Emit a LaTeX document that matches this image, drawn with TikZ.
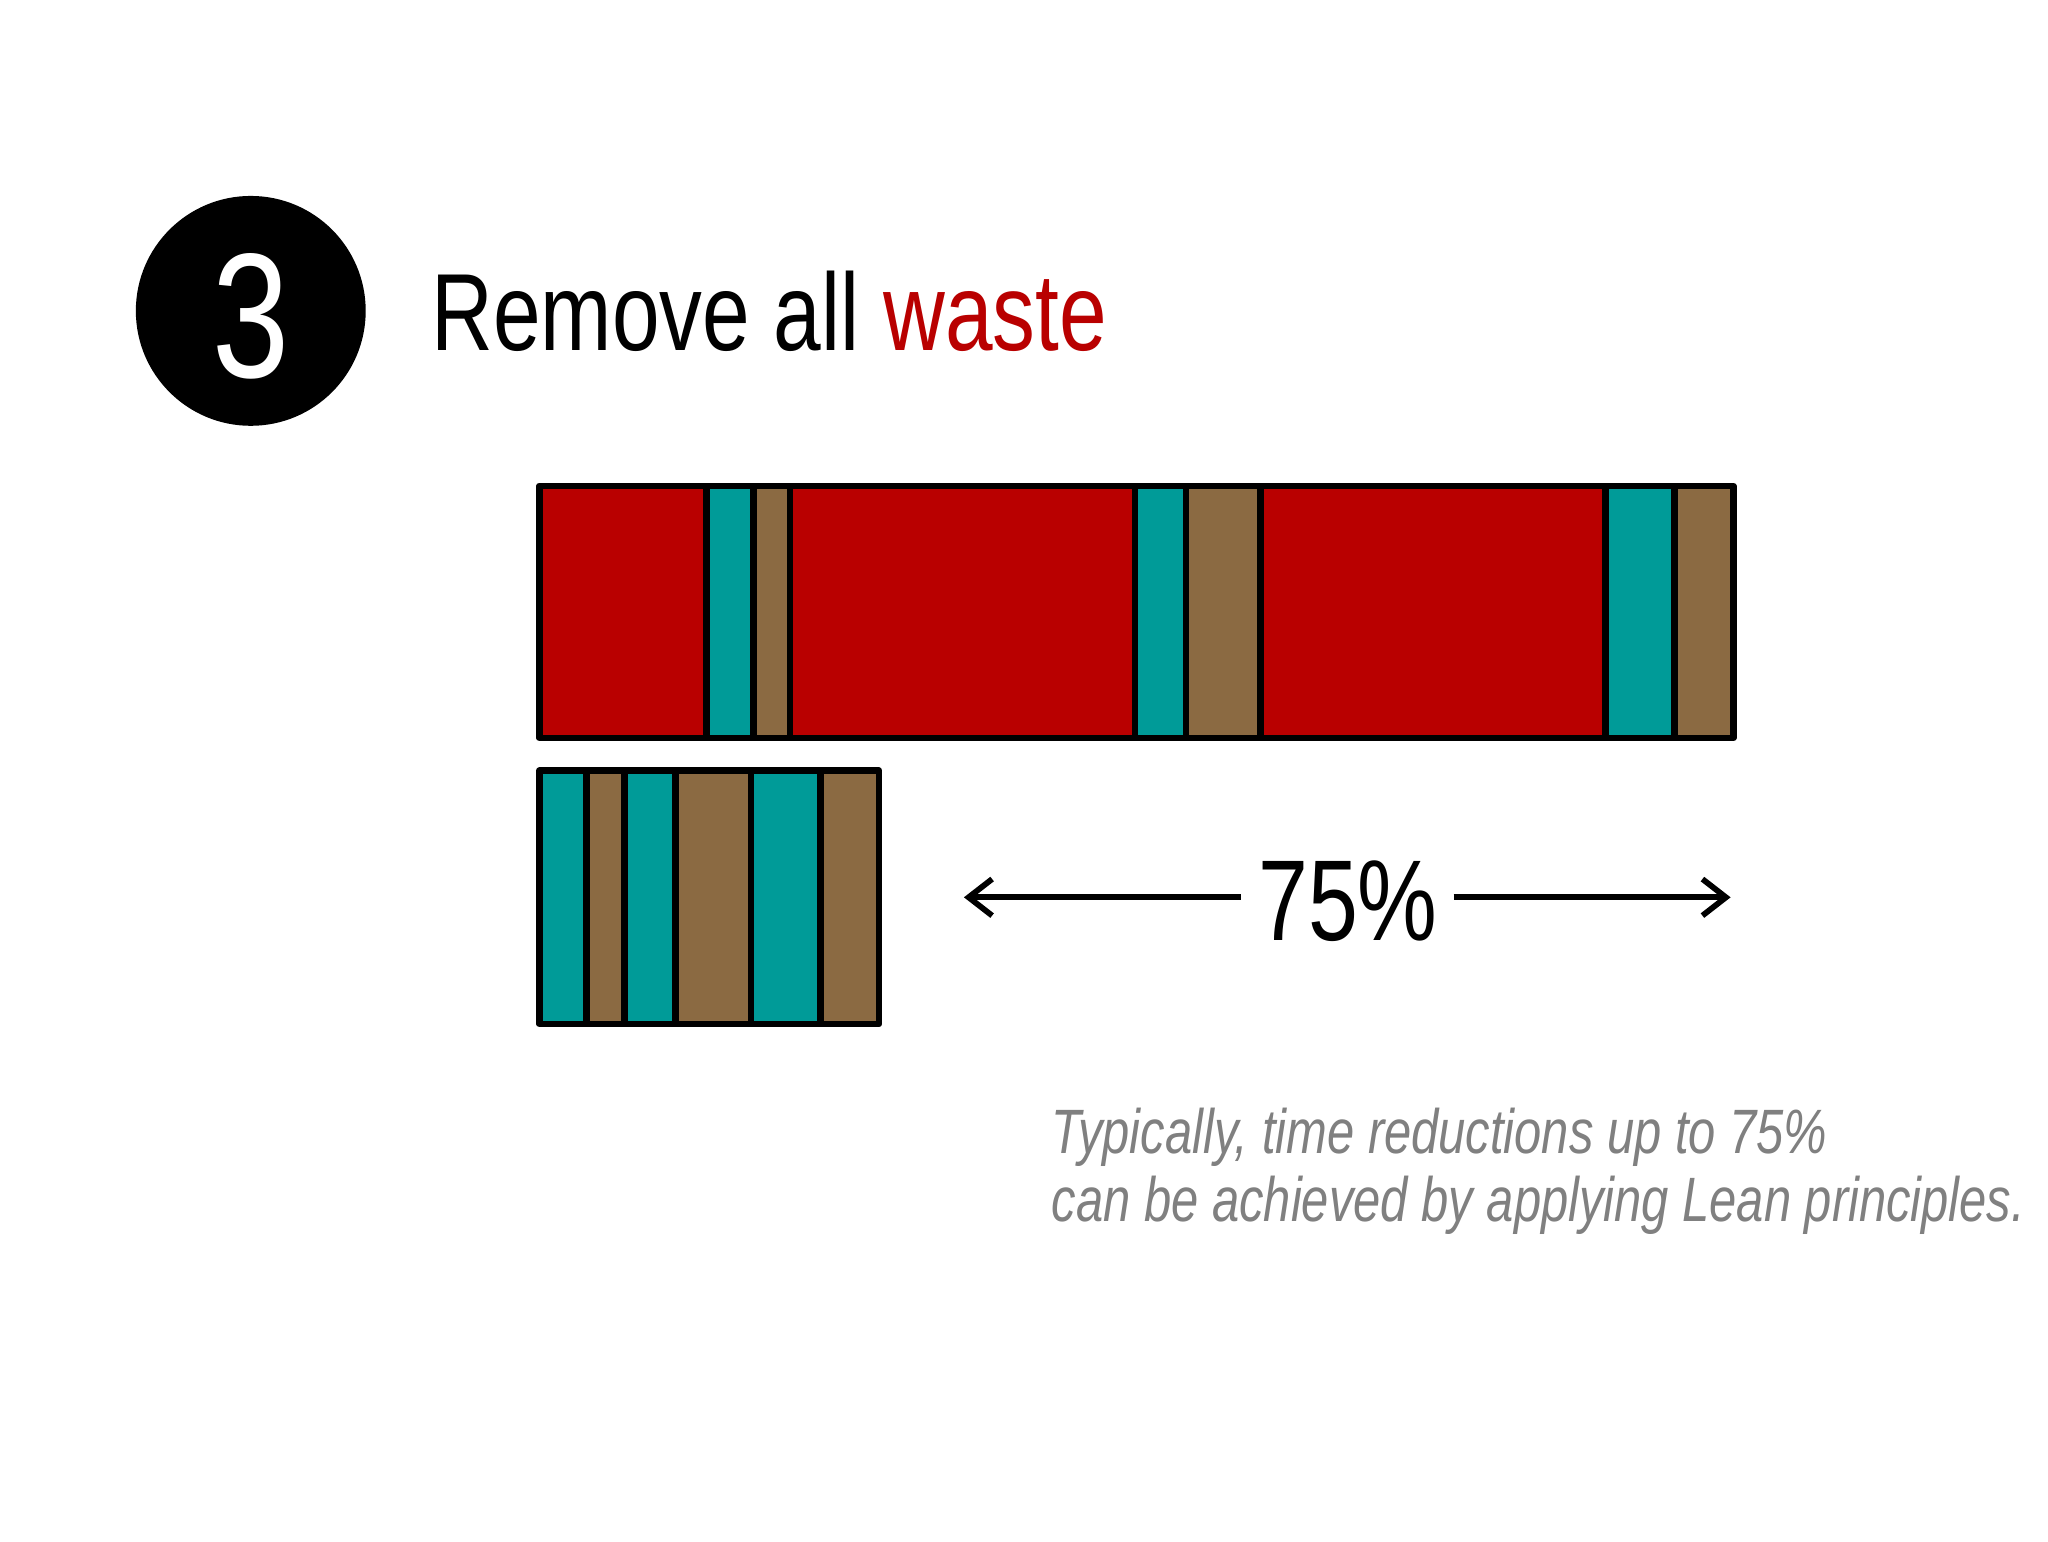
\documentclass[tikz,border=0pt]{standalone}
\usepackage{fontspec}
\setmainfont{Liberation Sans}
\newfontfamily\cond[FakeStretch=0.78]{Liberation Sans}
\usetikzlibrary{arrows.meta}
\definecolor{wred}{HTML}{B90000}
\definecolor{wteal}{HTML}{009B98}
\definecolor{wbrown}{HTML}{8B6A42}
\definecolor{wgray}{HTML}{808080}
\begin{document}
\begin{tikzpicture}[x=0.5pt,y=-0.5pt,
  seg/.style={draw=black,line width=2.5pt,line join=round},
  arr/.style={line width=2.2pt,-{Straight Barb[length=9pt,width=14pt,line width=2.2pt]}}]
\useasboundingbox (0,0) rectangle (1568,1180);
\fill[white] (0,0) rectangle (1568,1180);
\node[circle,fill=black,minimum size=88pt,inner sep=0] (num) at (192,238) {};
\node[text=white,font=\cond\fontsize{68}{68}\selectfont] at (192,242) {3};
\node[anchor=base west,inner sep=0,font=\cond\fontsize{42}{42}\selectfont] (title) at (330,268) {Remove all \textcolor{wred}{waste}};
% top bar
\foreach \a/\b/\c in {413/541/wred,541/577/wteal,577/605/wbrown,605/869/wred,869/908/wteal,908/965/wbrown,965/1229/wred,1229/1282/wteal,1282/1327/wbrown}
  \draw[seg,fill=\c] (\a,372) rectangle (\b,565);
% bottom bar
\foreach \a/\b/\c in {413/449/wteal,449/478/wbrown,478/517/wteal,517/575/wbrown,575/628/wteal,628/673/wbrown}
  \draw[seg,fill=\c] (\a,590) rectangle (\b,784);
\node[font=\cond\fontsize{44}{44}\selectfont,inner sep=0] (pct) at (1032,690) {75\%};
\coordinate (la) at (950,687);
\coordinate (lb) at (738,687);
\coordinate (ra) at (1113,687);
\coordinate (rb) at (1325,687);
\draw[arr] (la) -- (lb);
\draw[arr] (ra) -- (rb);
\node[anchor=north west,align=left,text=wgray,inner sep=0,font=\cond\itshape\fontsize{24}{26}\selectfont] (note) at (805,848) {Typically, time reductions up to 75\%\\can be achieved by applying Lean principles.};
\end{tikzpicture}
\end{document}
